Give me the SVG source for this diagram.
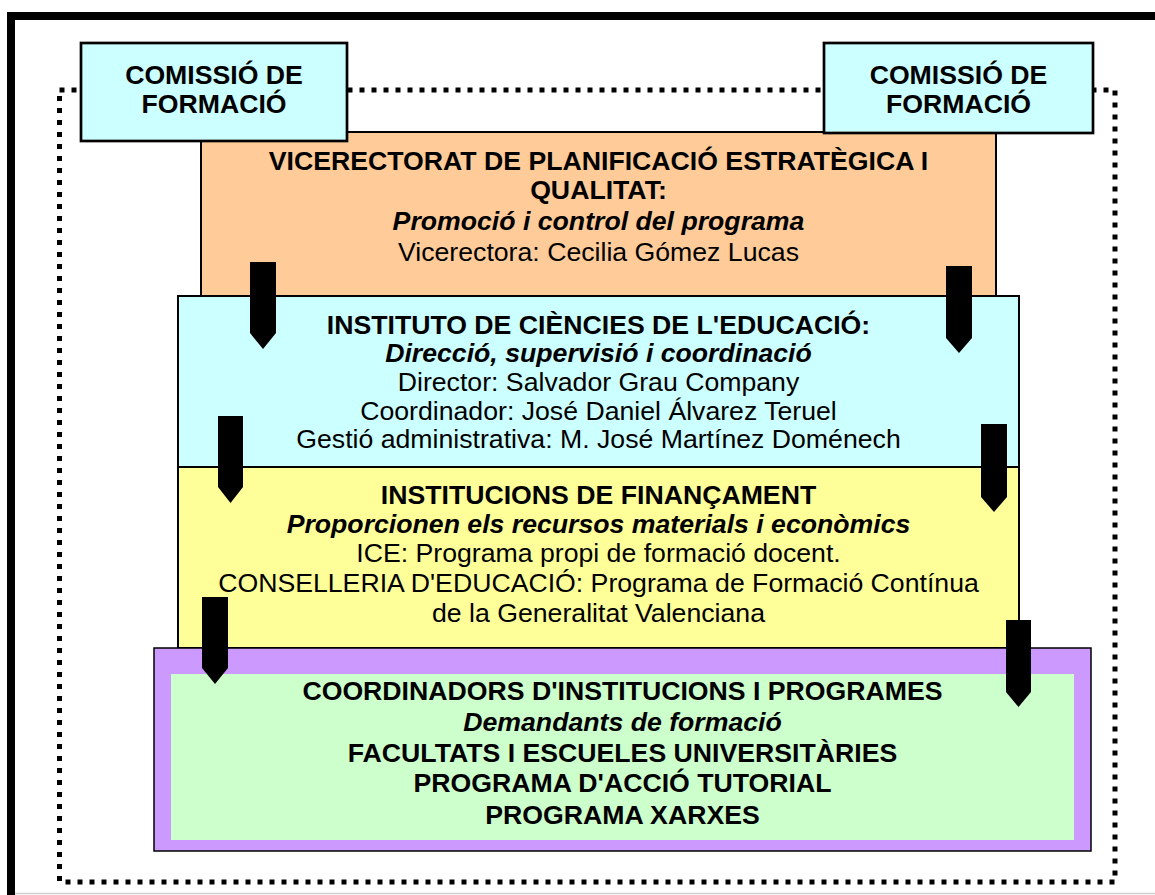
<svg xmlns="http://www.w3.org/2000/svg" width="1155" height="895" viewBox="0 0 1155 895">
<style>
text{font-family:"Liberation Sans",Arial,sans-serif;font-size:26.67px;fill:#000;text-anchor:middle}
.b{font-weight:bold}
.bi{font-weight:bold;font-style:italic}
.box{stroke:#000;stroke-width:2}
.arrow{fill:#000}
</style>
<rect x="0" y="0" width="1155" height="895" fill="#fff"/>
<line x1="15" y1="893.5" x2="1155" y2="893.5" stroke="#d0d0d0" stroke-width="1.5"/>
<rect x="11" y="16" width="1200" height="1000" fill="none" stroke="#000" stroke-width="8"/>
<rect x="59.5" y="90" width="1055.5" height="792" fill="none" stroke="#000" stroke-width="5" stroke-dasharray="5 7"/>

<g id="vicerectorat">
<rect class="box" x="201" y="132" width="795" height="166" fill="#FFCC99"/>
<text class="b" x="598.5" y="170">VICERECTORAT DE PLANIFICACIÓ ESTRATÈGICA I</text>
<text class="b" x="598.5" y="199">QUALITAT:</text>
<text class="bi" x="598.5" y="230">Promoció i control del programa</text>
<text x="598.5" y="261">Vicerectora: Cecilia Gómez Lucas</text>
</g>

<g id="comissio-left">
<rect x="81" y="43" width="266" height="98" fill="#CCFFFF" stroke="#000" stroke-width="2.7"/>
<text class="b" x="214" y="84">COMISSIÓ DE</text>
<text class="b" x="214" y="113">FORMACIÓ</text>
</g>

<g id="comissio-right">
<rect x="824" y="43" width="269" height="90" fill="#CCFFFF" stroke="#000" stroke-width="2.7"/>
<text class="b" x="958.5" y="84">COMISSIÓ DE</text>
<text class="b" x="958.5" y="113">FORMACIÓ</text>
</g>

<g id="ice">
<rect class="box" x="178" y="296" width="841" height="171" fill="#CCFFFF"/>
<text class="b" x="598.5" y="334">INSTITUTO DE CIÈNCIES DE L'EDUCACIÓ:</text>
<text class="bi" x="598.5" y="362">Direcció, supervisió i coordinació</text>
<text x="598.5" y="391">Director: Salvador Grau Company</text>
<text x="598.5" y="420">Coordinador: José Daniel Álvarez Teruel</text>
<text x="598.5" y="448">Gestió administrativa: M. José Martínez Doménech</text>
</g>

<g id="financament">
<rect class="box" x="178" y="467" width="841" height="181" fill="#FFFF99"/>
<text class="b" x="598.5" y="504">INSTITUCIONS DE FINANÇAMENT</text>
<text class="bi" x="598.5" y="533">Proporcionen els recursos materials i econòmics</text>
<text x="598.5" y="562">ICE: Programa propi de formació docent.</text>
<text x="598.5" y="592">CONSELLERIA D'EDUCACIÓ: Programa de Formació Contínua</text>
<text x="598.5" y="622">de la Generalitat Valenciana</text>
</g>

<g id="coordinadors">
<rect x="154" y="648" width="937" height="203" fill="#CC99FF" stroke="#000" stroke-width="1.5"/>
<rect x="171" y="674" width="903" height="166" fill="#CCFFCC"/>
<text class="b" x="622.5" y="700">COORDINADORS D'INSTITUCIONS I PROGRAMES</text>
<text class="bi" x="622.5" y="731">Demandants de formació</text>
<text class="b" x="622.5" y="762">FACULTATS I ESCUELES UNIVERSITÀRIES</text>
<text class="b" x="622.5" y="792">PROGRAMA D'ACCIÓ TUTORIAL</text>
<text class="b" x="622.5" y="824">PROGRAMA XARXES</text>
</g>

<g id="connectors">
<polygon class="arrow" points="250,262 276,262 276,333 263,349 250,333"/>
<polygon class="arrow" points="946,266 972,266 972,338 959,353 946,338"/>
<polygon class="arrow" points="218,416 243,416 243,487 230.5,503 218,487"/>
<polygon class="arrow" points="981,424 1007,424 1007,497 994,512 981,497"/>
<polygon class="arrow" points="202,597 228,597 228,668 215,684 202,668"/>
<polygon class="arrow" points="1006,620 1031,620 1031,692 1018.5,707 1006,692"/>
</g>
</svg>
